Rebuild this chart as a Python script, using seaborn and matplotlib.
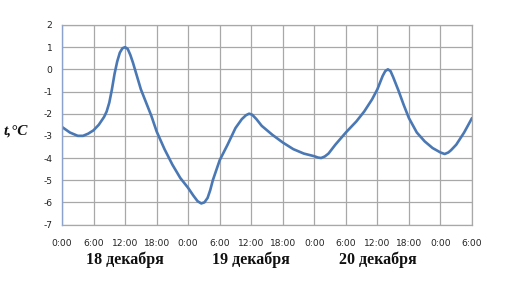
import matplotlib
matplotlib.use("Agg")
import matplotlib.pyplot as plt
import matplotlib.transforms as mtransforms
import seaborn as sns
import pandas as pd

# --- data (hours since 18 Dec 0:00, temperature °C) ---
hours = [0, 1.5, 3, 4, 5, 6, 7, 8, 8.5, 9, 9.5, 10, 10.5, 11, 11.5, 12, 12.5, 13, 13.5,
         14, 15, 16, 17, 18, 19.5, 21, 22.5, 24, 25, 25.8, 26.5, 27.1, 27.7, 28.2, 28.7,
         30, 31.5, 33, 34.2, 35, 35.6, 36.2, 37, 38, 40, 42, 44, 46, 48, 48.7, 49.3,
         50, 50.7, 52, 54, 56, 57.5, 59, 60, 60.5, 61, 61.5, 62, 62.5, 63, 63.5, 64,
         65, 66, 67.5, 69, 70.5, 72, 72.8, 73.5, 74, 75, 76.5, 78]
temps = [-2.6, -2.85, -3.0, -3.0, -2.9, -2.75, -2.5, -2.15, -1.9, -1.5, -0.9, -0.2,
         0.35, 0.75, 0.95, 1.0, 0.92, 0.65, 0.3, -0.1, -0.9, -1.5, -2.1, -2.8, -3.6,
         -4.3, -4.9, -5.35, -5.7, -5.95, -6.05, -6.0, -5.8, -5.45, -5.0, -4.1, -3.4,
         -2.65, -2.25, -2.07, -2.0, -2.05, -2.25, -2.55, -2.95, -3.3, -3.6, -3.8, -3.92,
         -3.98, -4.0, -3.93, -3.8, -3.4, -2.85, -2.35, -1.9, -1.35, -0.9, -0.6, -0.3,
         -0.08, 0.0, -0.08, -0.35, -0.65, -0.95, -1.6, -2.2, -2.85, -3.25, -3.55, -3.75,
         -3.82, -3.75, -3.65, -3.4, -2.85, -2.2]

tick_hours = list(range(0, 79, 6))
tick_labels = ["0:00", "6:00", "12:00", "18:00"] * 3 + ["0:00", "6:00"]
day_labels = ["18 декабря", "19 декабря", "20 декабря"]
day_centers = [12, 36, 60]
day_bounds = [24, 48, 72]
y_ticks = list(range(-7, 3))

df = pd.DataFrame({"hour": hours, "temp": temps})

sns.set_style("white")
plt.rcParams["font.family"] = ["DejaVu Sans"]

fig = plt.figure(figsize=(5.15, 2.85), dpi=100)
ax = fig.add_axes([62 / 515, 1 - 224.5 / 285, 410 / 515, 199.5 / 285])

sns.lineplot(data=df, x="hour", y="temp", ax=ax, color="#4a78b4", linewidth=1.9)
for ln in ax.lines:
    ln.set_solid_joinstyle("round")
    ln.set_solid_capstyle("round")

ax.set_xlim(0, 78)
ax.set_ylim(-7, 2)
ax.set_xticks(tick_hours)
ax.set_xticklabels(tick_labels, fontsize=6.6, color="#222222")
ax.set_yticks(y_ticks)
ax.set_yticklabels([str(v) for v in y_ticks], fontsize=6.6, color="#222222")
ax.tick_params(axis="x", which="major", length=0, pad=10.5)
ax.tick_params(axis="y", which="major", length=0, pad=7)
ax.set_xticks(day_bounds, minor=True)
ax.tick_params(axis="x", which="minor", length=6.5, width=0.9, color="#9a9a9a",
               direction="out")

ax.grid(True, which="major", color="#a8a8a8", linewidth=0.9)
ax.set_axisbelow(True)
for side in ["top", "right", "bottom"]:
    ax.spines[side].set_color("#a8a8a8")
    ax.spines[side].set_linewidth(0.9)
ax.spines["left"].set_color("#8aa2cc")
ax.spines["left"].set_linewidth(1.0)

ax.set_xlabel("")
ax.set_ylabel("")

trans = mtransforms.blended_transform_factory(ax.transData, fig.transFigure)
for lab, c in zip(day_labels, day_centers):
    ax.text(c, 1 - 260 / 285, lab, transform=trans, ha="center", va="center",
            fontsize=11.5, fontweight="bold", family="Liberation Serif", color="#111111")

fig.text(16 / 515, 1 - 131 / 285, "t,°C", ha="center", va="center", fontsize=11,
         fontweight="bold", fontstyle="italic", family="Liberation Serif", color="#111111")

fig.savefig("out.png", dpi=100, facecolor="white")
